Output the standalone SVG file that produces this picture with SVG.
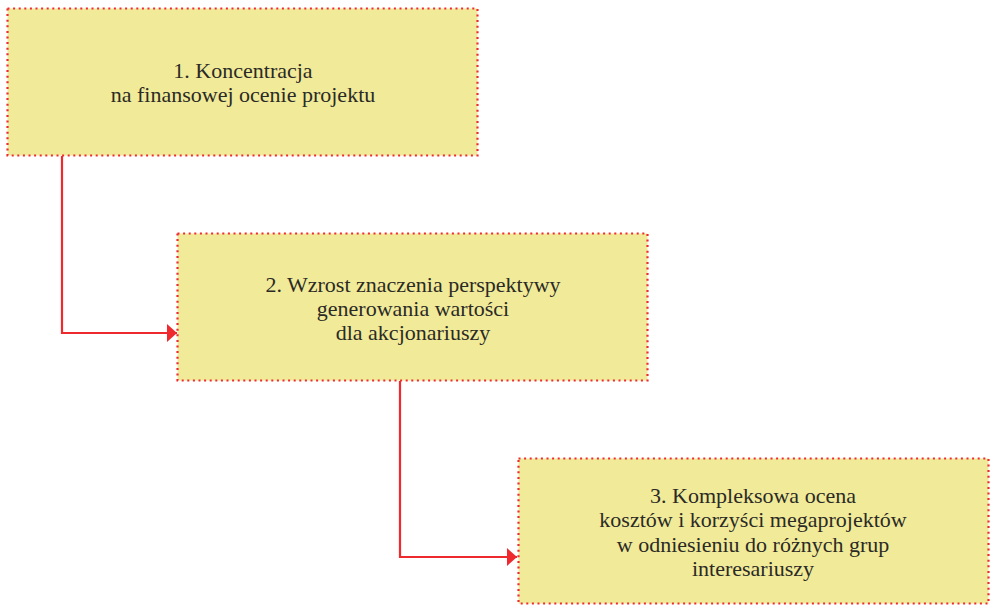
<svg xmlns="http://www.w3.org/2000/svg" width="991" height="605" viewBox="0 0 991 605">
<defs>
<style>
.box{fill:#F1EA98;stroke:#EE2A2E;stroke-width:2.2;stroke-dasharray:2 3.6;}
.t{font-family:'Liberation Serif','DejaVu Serif',serif;font-size:22px;fill:#2b2a26;text-anchor:middle;}
.c{fill:none;stroke:#EE2A2E;stroke-width:2.2;}
</style>
<marker id="ah" viewBox="0 0 10 18" refX="10" refY="9" markerWidth="10" markerHeight="18" markerUnits="userSpaceOnUse" orient="auto">
<path d="M0,0 L10,9 L0,18 Z" fill="#EE2A2E"/>
</marker>
</defs>
<rect width="991" height="605" fill="#ffffff"/>
<g id="connectors">
<path class="c" d="M62,156 V333 H177" marker-end="url(#ah)"/>
<path class="c" d="M400,381 V557 H517" marker-end="url(#ah)"/>
</g>
<g id="node1">
<rect class="box" x="7.5" y="8.5" width="470" height="147"/>
<text class="t" x="243" y="78">1. Koncentracja</text>
<text class="t" x="243" y="102">na finansowej ocenie projektu</text>
</g>
<g id="node2">
<rect class="box" x="177.5" y="233.5" width="470" height="147"/>
<text class="t" x="413" y="292">2. Wzrost znaczenia perspektywy</text>
<text class="t" x="413" y="316">generowania wartości</text>
<text class="t" x="413" y="340">dla akcjonariuszy</text>
</g>
<g id="node3">
<rect class="box" x="518.5" y="458.5" width="470" height="145"/>
<text class="t" x="753" y="503">3. Kompleksowa ocena</text>
<text class="t" x="753" y="527">kosztów i korzyści megaprojektów</text>
<text class="t" x="753" y="552">w odniesieniu do różnych grup</text>
<text class="t" x="753" y="576">interesariuszy</text>
</g>
</svg>
